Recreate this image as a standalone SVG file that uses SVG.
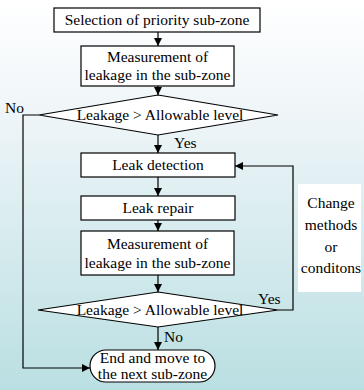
<svg xmlns="http://www.w3.org/2000/svg" width="364" height="390" viewBox="0 0 364 390">
  <defs>
    <linearGradient id="bg" x1="0" y1="0" x2="0" y2="1">
      <stop offset="0" stop-color="#ffffff"/>
      <stop offset="0.3" stop-color="#eef5f8"/>
      <stop offset="1" stop-color="#badfe2"/>
    </linearGradient>
    <marker id="arrow" viewBox="0 0 10 10" refX="10" refY="5" markerWidth="8" markerHeight="8" markerUnits="userSpaceOnUse" orient="auto">
      <path d="M0,0 L10,5 L0,10 Z" fill="#000"/>
    </marker>
    <style>
      .box { fill: #fff; stroke: #000; stroke-width: 1.2; }
      .txt { font-family: 'Liberation Serif', 'Times New Roman', serif; font-size: 15.5px; fill: #000; text-anchor: middle; }
      .lbl { font-family: 'Liberation Serif', 'Times New Roman', serif; font-size: 15.5px; fill: #000; }
      .conn { fill: none; stroke: #000; stroke-width: 1.2; }
    </style>
  </defs>

  <!-- soft vertical wash behind the chart -->
  <rect x="0" y="0" width="364" height="390" fill="url(#bg)"/>

  <g id="connectors">
    <line class="conn" x1="158" y1="32" x2="158" y2="46" marker-end="url(#arrow)"/>
    <line class="conn" x1="158" y1="86" x2="158" y2="95" marker-end="url(#arrow)"/>
    <line class="conn" x1="158" y1="135" x2="158" y2="153" marker-end="url(#arrow)"/>
    <line class="conn" x1="158" y1="177" x2="158" y2="196" marker-end="url(#arrow)"/>
    <line class="conn" x1="158" y1="220" x2="158" y2="231" marker-end="url(#arrow)"/>
    <line class="conn" x1="158" y1="275" x2="158" y2="292" marker-end="url(#arrow)"/>
    <line class="conn" x1="158" y1="327" x2="158" y2="350" marker-end="url(#arrow)"/>
    <!-- "No" branch of the first check -->
    <polyline class="conn" points="39,115 23,115 23,368 90,368" marker-end="url(#arrow)"/>
    <!-- "Yes" loop back to leak detection -->
    <polyline class="conn" points="278,310 293,310 293,166 235,166" marker-end="url(#arrow)"/>
  </g>

  <g id="select">
    <rect class="box" x="54" y="8" width="206" height="24"/>
    <text class="txt" x="157" y="25">Selection of priority sub-zone</text>
  </g>

  <g id="measure1">
    <rect class="box" x="81" y="46" width="153" height="40"/>
    <text class="txt" x="157.5" y="62">Measurement of</text>
    <text class="txt" x="157.5" y="80">leakage in the sub-zone</text>
  </g>

  <g id="check1">
    <polygon class="box" points="158,95 278,115 158,135 39,115"/>
    <text class="txt" x="160" y="120">Leakage &gt; Allowable level</text>
    <text class="lbl" x="5" y="113">No</text>
    <text class="lbl" x="174" y="148">Yes</text>
  </g>

  <g id="detect">
    <rect class="box" x="81" y="153" width="154" height="24"/>
    <text class="txt" x="158" y="170">Leak detection</text>
  </g>

  <g id="repair">
    <rect class="box" x="81" y="196" width="154" height="24"/>
    <text class="txt" x="158" y="213">Leak repair</text>
  </g>

  <g id="measure2">
    <rect class="box" x="81" y="231" width="153" height="44"/>
    <text class="txt" x="157.5" y="249">Measurement of</text>
    <text class="txt" x="157.5" y="268">leakage in the sub-zone</text>
  </g>

  <g id="check2">
    <polygon class="box" points="158,292 278,310 158,327 38,310"/>
    <text class="txt" x="160" y="315">Leakage &gt; Allowable level</text>
    <text class="lbl" x="258" y="304">Yes</text>
    <text class="lbl" x="164" y="342">No</text>
  </g>

  <g id="change">
    <rect x="298" y="184" width="63" height="108" fill="#fff"/>
    <text class="txt" x="331" y="208">Change</text>
    <text class="txt" x="331" y="230">methods</text>
    <text class="txt" x="331" y="252">or</text>
    <text class="txt" x="331" y="273">conditons</text>
  </g>

  <g id="end">
    <rect class="box" x="90" y="350" width="125" height="32" rx="16" ry="16"/>
    <text class="txt" x="152.5" y="363">End and move to</text>
    <text class="txt" x="152.5" y="379">the next sub-zone</text>
  </g>
</svg>
